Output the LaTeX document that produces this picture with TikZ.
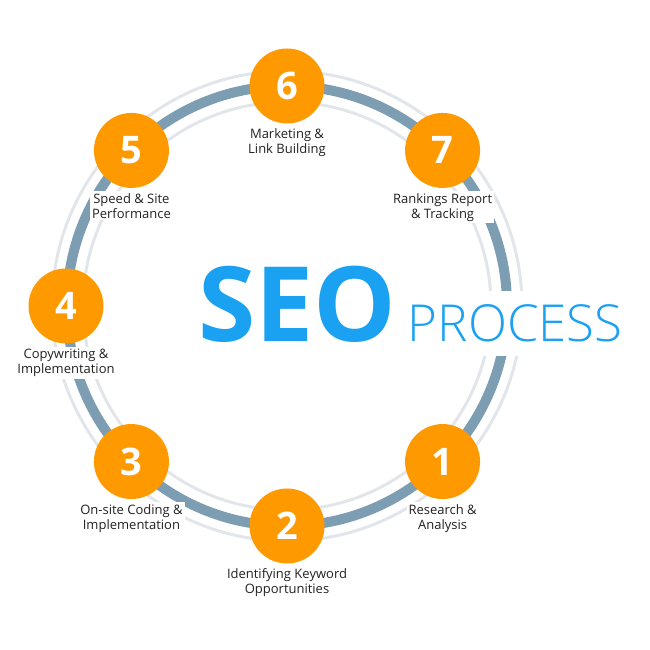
\documentclass[tikz,border=0pt]{standalone}
\usepackage{fontspec}
\setmainfont{Open Sans}
\newfontfamily\seolight{Open Sans}[UprightFont=* Light]
\usetikzlibrary{positioning,calc}
\definecolor{SeoOrange}{RGB}{255,153,0}
\definecolor{SeoBlue}{RGB}{27,161,242}
\definecolor{SeoRing}{RGB}{125,157,178}
\definecolor{SeoHalo}{RGB}{226,230,234}
\definecolor{SeoText}{RGB}{34,34,34}
\tikzset{
  seo/ring/.style={
    draw=SeoRing,
    line width=10pt
  },
  seo/halo/.style={
    draw=SeoHalo,
    line width=3pt
  },
  seo/badge/.style={
    circle,
    fill=SeoOrange,
    minimum size=75pt,
    inner sep=0pt,
    text=white,
    font=\fontsize{38}{38}\selectfont\bfseries
  },
  seo/label/.style={
    align=center,
    text=SeoText,
    fill=white,
    inner sep=2pt,
    font=\fontsize{13}{15}\selectfont
  },
  seo/title/.style={
    text=SeoBlue,
    inner sep=0pt,
    font=\fontsize{104}{104}\selectfont\bfseries
  },
  seo/subtitle/.style={
    text=SeoBlue,
    fill=white,
    inner xsep=2pt,
    inner ysep=14pt,
    font=\fontsize{51}{51}\selectfont\seolight
  }
}

\begin{document}
\begin{tikzpicture}[x=1pt,y=1pt]
  \useasboundingbox (0,0) rectangle (650,650);
  \coordinate (o) at (287,344);
  % ring
  \draw[seo/halo] (o) circle[radius=235];
  \draw[seo/halo] (o) circle[radius=204];
  \draw[seo/ring] (o) circle[radius=220];
  % title
  \node[seo/title, anchor=base west] (seo) at (198,308) {SEO};
  \node[seo/subtitle, anchor=base west] (process) at ([xshift=9pt]seo.base east) {PROCESS};
  % steps
  \node[seo/badge] (s1) at ($(o)+(-45:220)$) {1};
  \node[seo/badge] (s2) at ($(o)+(-90:220)$) {2};
  \node[seo/badge] (s3) at ($(o)+(-135:220)$) {3};
  \node[seo/badge] (s4) at ($(o)+(180:221)$) {4};
  \node[seo/badge] (s5) at ($(o)+(135:220)$) {5};
  \node[seo/badge] (s6) at ($(o)+(90:220)$) {6};
  \node[seo/badge] (s7) at ($(o)+(45:220)$) {7};
  \node[seo/label, below=3pt of s1] (l1) {Research \&\\Analysis};
  \node[seo/label, below=3pt of s2] (l2) {Identifying Keyword\\Opportunities};
  \node[seo/label, below=3pt of s3] (l3) {On-site Coding \&\\Implementation};
  \node[seo/label, below=3pt of s4] (l4) {Copywriting \&\\Implementation};
  \node[seo/label, below=3pt of s5] (l5) {Speed \& Site\\Performance};
  \node[seo/label, below=3pt of s6] (l6) {Marketing \&\\Link Building};
  \node[seo/label, below=3pt of s7] (l7) {Rankings Report\\\& Tracking};
\end{tikzpicture}
\end{document}
